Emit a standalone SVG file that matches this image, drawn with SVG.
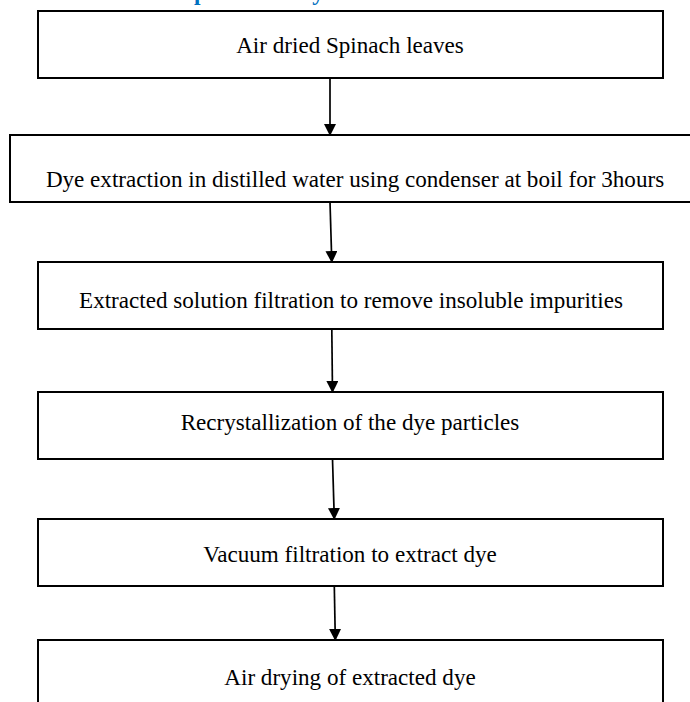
<svg xmlns="http://www.w3.org/2000/svg" width="690" height="702" viewBox="0 0 690 702">
  <defs>
    <style>
      .box { fill: #ffffff; stroke: #000000; stroke-width: 2; }
      .lbl { font-family: "Liberation Serif", "Times New Roman", serif; font-size: 23.1px; fill: #000000; text-anchor: middle; }
      .head { font-family: "Liberation Serif", "Times New Roman", serif; font-size: 23.5px; font-weight: bold; fill: #0070C0; }
      .conn { stroke: #000000; stroke-width: 1.7; fill: none; marker-end: url(#arrow); }
    </style>
    <marker id="arrow" viewBox="0 0 12 12" refX="11" refY="6" markerWidth="12" markerHeight="12" markerUnits="userSpaceOnUse" orient="auto">
      <path d="M0,0 L12,6 L0,12 Z" fill="#000000"/>
    </marker>
  </defs>
  <rect x="0" y="0" width="690" height="702" fill="#ffffff"/>

  <text class="head" x="81" y="0">Extraction process of dye</text>

  <g id="connectors">
    <line class="conn" x1="330" y1="78" x2="330" y2="135"/>
    <line class="conn" x1="330" y1="202" x2="331.8" y2="262"/>
    <line class="conn" x1="331.8" y1="329" x2="332.5" y2="392"/>
    <line class="conn" x1="332.5" y1="459" x2="334.3" y2="519"/>
    <line class="conn" x1="334.3" y1="586" x2="335.3" y2="640"/>
  </g>

  <g id="n1">
    <rect class="box" x="38" y="11" width="625" height="67"/>
    <text class="lbl" x="350" y="53">Air dried Spinach leaves</text>
  </g>
  <g id="n2">
    <rect class="box" x="10" y="135" width="700" height="67"/>
    <text class="lbl" x="355" y="187">Dye extraction in distilled water using condenser at boil for 3hours</text>
  </g>
  <g id="n3">
    <rect class="box" x="38" y="262" width="625" height="67"/>
    <text class="lbl" x="351" y="308">Extracted solution filtration to remove insoluble impurities</text>
  </g>
  <g id="n4">
    <rect class="box" x="38" y="392" width="625" height="67"/>
    <text class="lbl" x="350" y="430">Recrystallization of the dye particles</text>
  </g>
  <g id="n5">
    <rect class="box" x="38" y="519" width="625" height="67"/>
    <text class="lbl" x="350" y="562">Vacuum filtration to extract dye</text>
  </g>
  <g id="n6">
    <rect class="box" x="38" y="640" width="625" height="80"/>
    <text class="lbl" x="350" y="685">Air drying of extracted dye</text>
  </g>
</svg>
